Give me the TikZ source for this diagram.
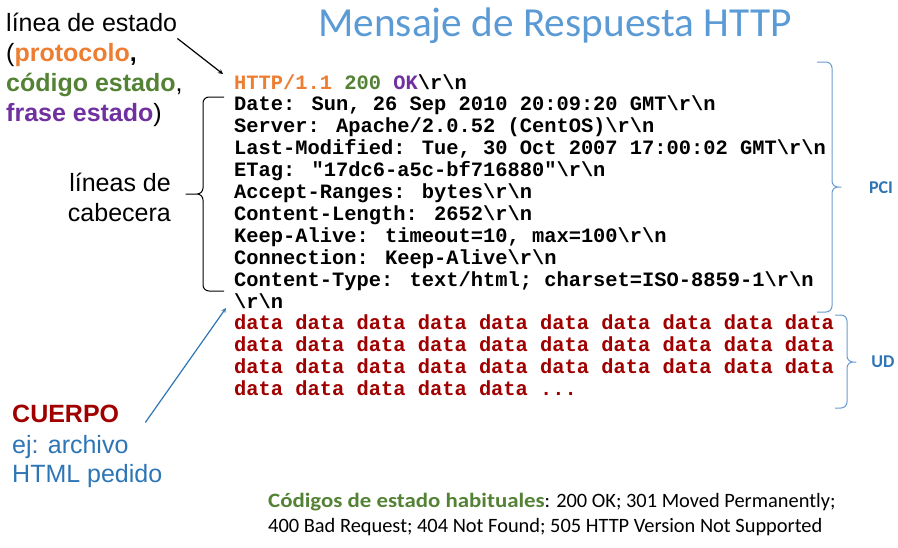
\documentclass[tikz,border=0pt]{standalone}
\usepackage{fontspec}
\usepackage{xcolor}
\usepackage{tikz}
\usetikzlibrary{arrows}
\setmainfont{Liberation Sans}
\newfontfamily\codefont{Liberation Mono}
\newfontfamily\calfont{Carlito}
\definecolor{titleblue}{HTML}{5B9BD5}
\definecolor{httporange}{HTML}{ED7D31}
\definecolor{httpgreen}{HTML}{548235}
\definecolor{httppurple}{HTML}{7030A0}
\definecolor{bodyred}{HTML}{A00000}
\definecolor{notesblue}{HTML}{2E75B6}
\definecolor{bracecol}{HTML}{6A9BD0}
\newcommand{\rnend}{\textbackslash r\textbackslash n}
\tikzstyle{note} = [anchor=base west, inner sep=0pt, font=\fontsize{25}{30}\selectfont]
\tikzstyle{codeline} = [anchor=base west, inner sep=0pt, font=\fontsize{20.4}{22}\selectfont\codefont\bfseries]
\tikzstyle{dataline} = [codeline, text=bodyred]
\tikzstyle{part} = [inner sep=0pt, text=notesblue, font=\fontsize{18}{20}\selectfont\calfont\bfseries]
\tikzstyle{codes} = [anchor=base west, inner sep=0pt, font=\fontsize{20.4}{22}\selectfont\calfont]
\tikzstyle{ppbrace} = [rounded corners=6pt, line width=1pt]
\tikzstyle{arrow} = [line width=1.2pt,->,>=stealth]

\begin{document}
\begin{tikzpicture}[x=1pt, y=-1pt]
        \useasboundingbox (0,0) rectangle (898,547);
        \node (title) [anchor=base, inner sep=0pt, text=titleblue, font=\fontsize{41.3}{44}\selectfont\calfont] at (555,36) {Mensaje de Respuesta HTTP};

        % left notes
        \node (lbl1) [note] at (6,31) {línea de estado};
        \node (lbl2) [note] at (6,61) {(\textbf{\textcolor{httporange}{protocolo}}\textbf{,}};
        \node (lbl3) [note] at (6,91) {\textbf{\textcolor{httpgreen}{código estado}},};
        \node (lbl4) [note] at (6,121) {\textbf{\textcolor{httppurple}{frase estado}})};
        \node (hdrlbl1) [note, anchor=base east] at (171,191) {líneas de};
        \node (hdrlbl2) [note, anchor=base east] at (171,221) {cabecera};
        \node (cuerpo) [note, text=bodyred, font=\fontsize{25}{30}\selectfont\bfseries] at (12,422) {CUERPO};
        \node (ej1) [note, text=notesblue] at (12,453) {ej: archivo};
        \node (ej2) [note, text=notesblue] at (12,482) {HTML pedido};

        % message
        \node (status) [codeline] at (234,89) {\textcolor{httporange}{HTTP/1.1} \textcolor{httpgreen}{200} \textcolor{httppurple}{OK}\rnend};
        \foreach \txt [count=\i] in {{Date: Sun, 26 Sep 2010 20:09:20 GMT\rnend},
            {Server: Apache/2.0.52 (CentOS)\rnend},
            {Last-Modified: Tue, 30 Oct 2007 17:00:02 GMT\rnend},
            {ETag: "17dc6-a5c-bf716880"\rnend},
            {Accept-Ranges: bytes\rnend},
            {Content-Length: 2652\rnend},
            {Keep-Alive: timeout=10, max=100\rnend},
            {Connection: Keep-Alive\rnend},
            {Content-Type: text/html; charset=ISO-8859-1\rnend},
            {\rnend}}
            \node (hdr\i) [codeline] at (234,{89+21.9*\i}) {\txt};
        \foreach \k in {1,2,3}
            \node (data\k) [dataline] at (234,{89+21.9*(10+\k)}) {data data data data data data data data data data};
        \node (data4) [dataline] at (234,{89+21.9*14}) {data data data data data ...};

        % braces
        \draw [ppbrace] (224,97) -| (203,194) -- (182,194) -- (203,194) |- (224,291);
        \draw [ppbrace, draw=bracecol] (817,62) -| (832,187) -- (845,187) -- (832,187) |- (817,312);
        \draw [ppbrace, draw=bracecol] (835,315) -| (847,362) -- (860,362) -- (847,362) |- (835,408);
        \node (pci) [part] at (881,188) {PCI};
        \node (ud) [part] at (883,362) {UD};

        \coordinate (bodytip) at (226,308);
        \draw [arrow] ([yshift=-7pt]lbl1.south east) -- ([xshift=-11pt]status.north west);
        \draw [arrow, draw=notesblue] ([xshift=26pt]cuerpo.south east) -- (bodytip);

        \node (codes1) [codes] at (268,507) {\scalebox{1.12}[1]{\textbf{\textcolor{httpgreen}{Códigos de estado habituales}}}: 200 OK; 301 Moved Permanently;};
        \node (codes2) [codes] at (268,532) {400 Bad Request; 404 Not Found; 505 HTTP Version Not Supported};
    \end{tikzpicture}
\end{document}
